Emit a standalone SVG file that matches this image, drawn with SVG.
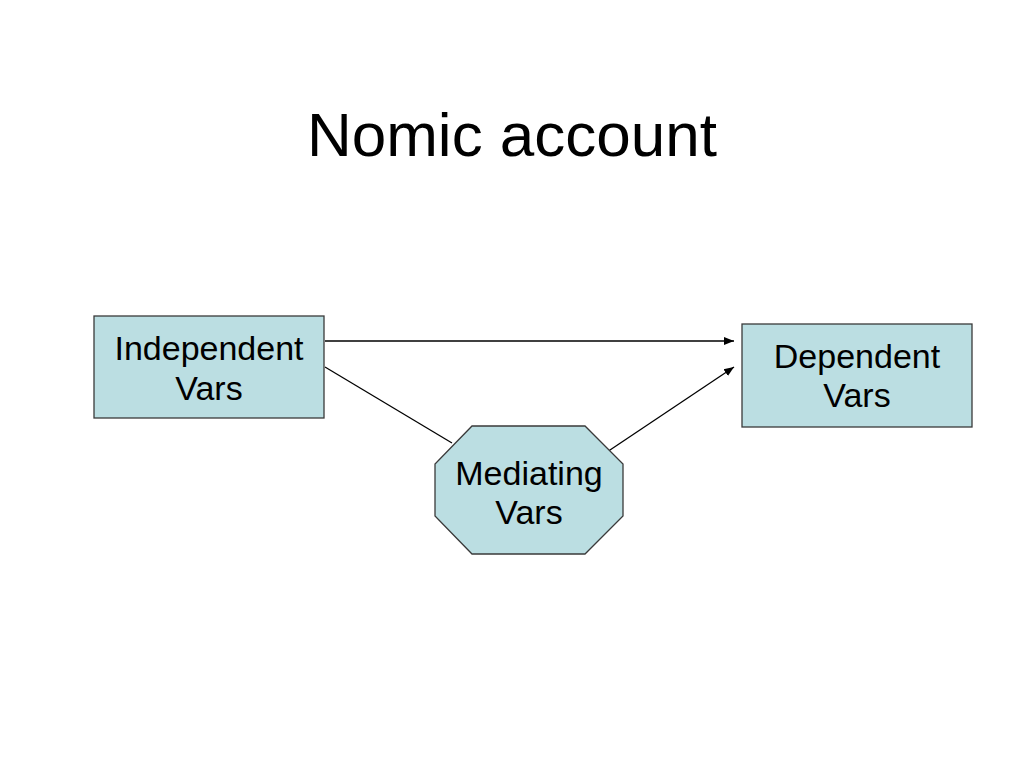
<svg xmlns="http://www.w3.org/2000/svg" width="1024" height="768" viewBox="0 0 1024 768">
<defs>
<marker id="arr" viewBox="0 0 10 10" refX="10" refY="5" markerWidth="10" markerHeight="10" markerUnits="userSpaceOnUse" orient="auto">
<path d="M0,1 L10,5 L0,9 Z" fill="#000"/>
</marker>
<style>
.node{fill:#bbdee2;stroke:#3a3a3a;stroke-width:1.3}
.lbl{font-family:"Liberation Sans",Arial,sans-serif;font-size:34px;fill:#000;text-anchor:middle}
.title{font-family:"Liberation Sans",Arial,sans-serif;font-size:62px;fill:#000;text-anchor:middle}
.conn{stroke:#000;stroke-width:1.3;fill:none}
</style>
</defs>
<rect width="1024" height="768" fill="#fff"/>
<text class="title" x="512" y="156">Nomic account</text>
<g id="connectors">
<line class="conn" x1="325" y1="341" x2="734" y2="341" marker-end="url(#arr)"/>
<line class="conn" x1="325" y1="367" x2="452" y2="443"/>
<line class="conn" x1="607" y1="452" x2="734" y2="367" marker-end="url(#arr)"/>
</g>
<g id="independent">
<rect class="node" x="94" y="316" width="230" height="102"/>
<text class="lbl" x="209" y="360">Independent</text>
<text class="lbl" x="209" y="400">Vars</text>
</g>
<g id="dependent">
<rect class="node" x="742" y="324" width="230" height="103"/>
<text class="lbl" x="857" y="368">Dependent</text>
<text class="lbl" x="857" y="407">Vars</text>
</g>
<g id="mediating">
<polygon class="node" points="472,426 585,426 623,464 623,516 585,554 472,554 435,516 435,464"/>
<text class="lbl" x="529" y="485">Mediating</text>
<text class="lbl" x="529" y="524">Vars</text>
</g>
</svg>
